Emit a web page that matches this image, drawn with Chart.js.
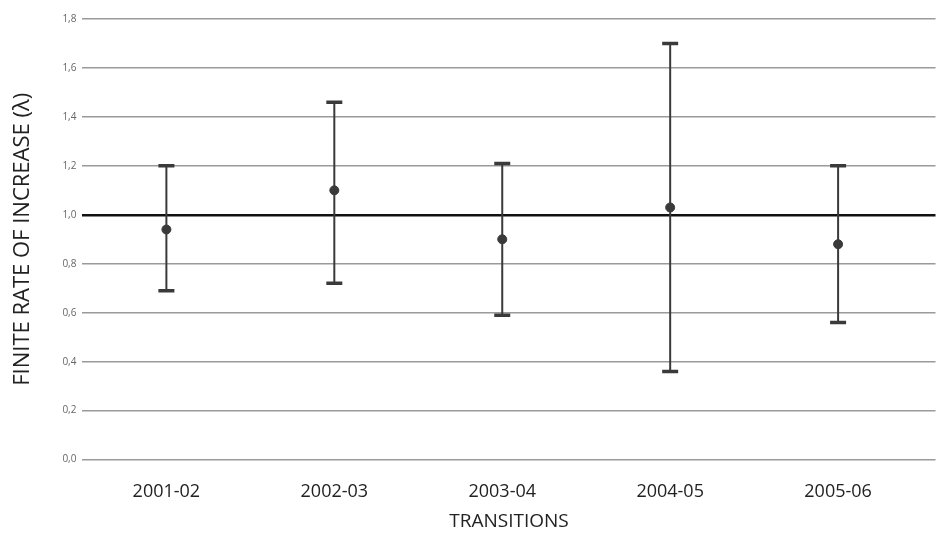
<!DOCTYPE html>
<html>
<head>
<meta charset="utf-8">
<script src="https://cdn.jsdelivr.net/npm/chart.js@4"></script>
<style>
html,body{margin:0;padding:0;background:#fff;}
#wrap{width:941px;height:544px;position:relative;}
</style>
</head>
<body>
<div id="wrap"><canvas id="c" width="941" height="544"></canvas></div>
<script>
const categories = ["2001-02", "2002-03", "2003-04", "2004-05", "2005-06"];
const lambdaMean = [0.94, 1.10, 0.90, 1.03, 0.88];
const lambdaUpper = [1.20, 1.46, 1.21, 1.70, 1.20];
const lambdaLower = [0.69, 0.72, 0.59, 0.36, 0.56];
const yTicks = [0, 0.2, 0.4, 0.6, 0.8, 1.0, 1.2, 1.4, 1.6, 1.8];

const errorBars = {
  id: 'errorBars',
  afterDatasetsDraw(chart) {
    const ctx = chart.ctx, xs = chart.scales.x, ys = chart.scales.y;
    ctx.save();
    ctx.strokeStyle = '#3a3a3a';
    categories.forEach((c, i) => {
      const x = xs.getPixelForValue(i);
      const yt = ys.getPixelForValue(lambdaUpper[i]);
      const yb = ys.getPixelForValue(lambdaLower[i]);
      ctx.lineWidth = 2;
      ctx.beginPath(); ctx.moveTo(x, yt); ctx.lineTo(x, yb); ctx.stroke();
      ctx.lineWidth = 3.5;
      ctx.beginPath();
      ctx.moveTo(x - 8, yt); ctx.lineTo(x + 8, yt);
      ctx.moveTo(x - 8, yb); ctx.lineTo(x + 8, yb);
      ctx.stroke();
    });
    ctx.restore();
  }
};

new Chart(document.getElementById('c'), {
  type: 'scatter',
  data: {
    datasets: [{
      data: lambdaMean.map((v, i) => ({x: i, y: v})),
      pointStyle: 'circle',
      pointRadius: 4.5,
      backgroundColor: '#3a3a3a',
      borderColor: '#3a3a3a',
      showLine: false
    }]
  },
  options: {
    responsive: false,
    animation: false,
    layout: {padding: {left: 10, right: 2, top: 19, bottom: 11}},
    plugins: {legend: {display: false}, tooltip: {enabled: false}},
    scales: {
      x: {
        type: 'linear',
        min: -0.5, max: 4.58,
        afterBuildTicks: (s) => { s.ticks = categories.map((c, i) => ({value: i})); },
        ticks: {
          callback: (v) => categories[v],
          color: '#222',
          font: {family: 'Open Sans', size: 18},
          padding: 21,
          maxRotation: 0
        },
        grid: {display: false, drawTicks: false},
        border: {display: false},
        title: {display: true, text: 'TRANSITIONS', color: '#222', font: {family: 'Open Sans', size: 19}, padding: {top: -13, bottom: 0}}
      },
      y: {
        min: 0, max: 1.8,
        afterBuildTicks: (s) => { s.ticks = yTicks.map(v => ({value: v})); },
        ticks: {
          callback: (v) => v.toFixed(1).replace('.', ','),
          color: '#666',
          font: {family: 'Open Sans', size: 10},
          padding: 6
        },
        grid: {
          color: (ctx) => Math.abs(ctx.tick.value - 1) < 1e-9 ? '#111' : '#9a9a9a',
          lineWidth: (ctx) => Math.abs(ctx.tick.value - 1) < 1e-9 ? 2.5 : 1.5,
          drawTicks: false
        },
        border: {display: false},
        title: {display: true, text: 'FINITE RATE OF INCREASE (λ)', color: '#222', font: {family: 'Open Sans', size: 22}, padding: {top: 0, bottom: 20}}
      }
    }
  },
  plugins: [errorBars]
});
</script>
</body>
</html>
